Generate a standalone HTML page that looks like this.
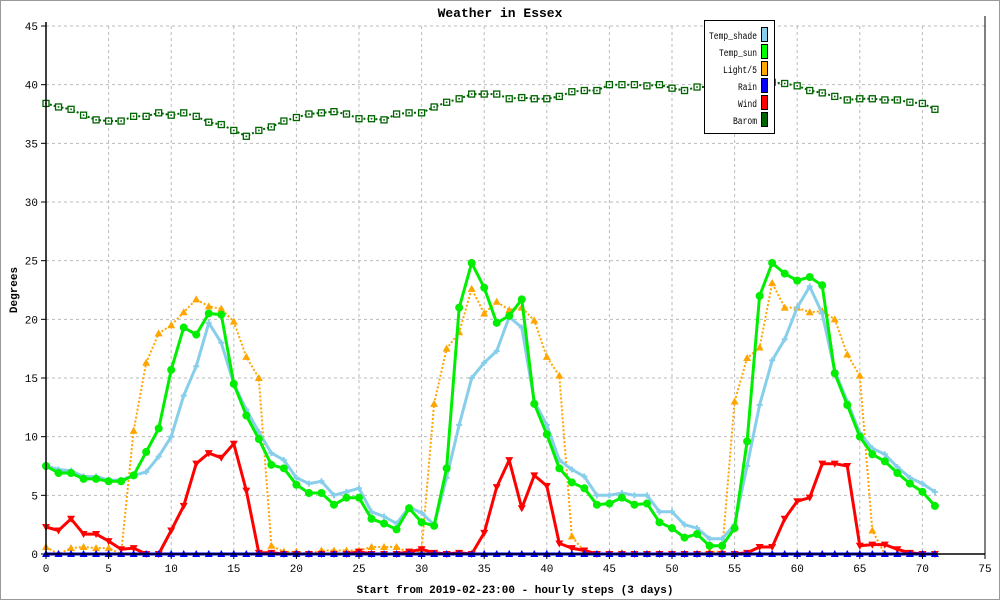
<!DOCTYPE html>
<html><head><meta charset="utf-8">
<style>
html,body{margin:0;padding:0;background:#fff;}
svg{display:block;font-family:"Liberation Mono","DejaVu Sans Mono",monospace;}
</style></head>
<body>
<svg id="chart" width="1000" height="600" xmlns="http://www.w3.org/2000/svg">
<rect x="0.5" y="0.5" width="999" height="599" fill="#fff" stroke="#999"/>
<text x="500" y="17" text-anchor="middle" font-size="13" font-weight="bold">Weather in Essex</text>
<text x="0" y="0" transform="translate(17,290) rotate(-90)" text-anchor="middle" font-size="11" font-weight="bold">Degrees</text>
<text x="515" y="593" text-anchor="middle" font-size="11" font-weight="bold">Start from 2019-02-23:00 - hourly steps (3 days)</text>
<g id="grid"></g>
<g id="series"></g>
<g id="axes"></g>
<g>
<rect x="704.5" y="20.5" width="70" height="113" fill="#fff" stroke="#000"/>
<g font-size="10" text-anchor="end">
<text x="757" y="39" textLength="48" lengthAdjust="spacingAndGlyphs">Temp_shade</text>
<text x="757" y="56" textLength="38" lengthAdjust="spacingAndGlyphs">Temp_sun</text>
<text x="757" y="73" textLength="34" lengthAdjust="spacingAndGlyphs">Light/5</text>
<text x="757" y="90" textLength="19" lengthAdjust="spacingAndGlyphs">Rain</text>
<text x="757" y="107" textLength="19" lengthAdjust="spacingAndGlyphs">Wind</text>
<text x="757" y="124" textLength="24" lengthAdjust="spacingAndGlyphs">Barom</text>
</g>
<rect x="761.5" y="27.5" width="6" height="14" fill="#87ceeb" stroke="#000"/>
<rect x="761.5" y="44.5" width="6" height="14" fill="#00ff00" stroke="#000"/>
<rect x="761.5" y="61.5" width="6" height="14" fill="#ffa500" stroke="#000"/>
<rect x="761.5" y="78.5" width="6" height="14" fill="#0000ff" stroke="#000"/>
<rect x="761.5" y="95.5" width="6" height="14" fill="#ff0000" stroke="#000"/>
<rect x="761.5" y="112.5" width="6" height="14" fill="#006400" stroke="#000"/>
</g>
</svg>
<script>
const xTicks = [0,5,10,15,20,25,30,35,40,45,50,55,60,65,70,75];
const yTicks = [0,5,10,15,20,25,30,35,40,45];
const tempShade = [7.5,7.2,7.1,6.6,6.6,6.3,6.3,6.7,7.0,8.3,10.0,13.5,16.0,19.7,18.0,14.5,12.3,10.4,8.6,8.0,6.5,6.0,6.2,5.0,5.3,5.6,3.6,3.2,2.6,4.0,3.5,2.5,6.5,11.0,15.0,16.3,17.3,20.2,19.3,13.0,11.0,8.0,7.2,6.6,5.0,5.0,5.2,5.0,5.0,3.6,3.6,2.5,2.2,1.3,1.3,2.5,7.5,12.7,16.5,18.3,21.0,22.8,20.5,15.6,13.0,10.3,9.0,8.5,7.4,6.5,6.0,5.3];
const tempSun = [7.5,6.9,6.9,6.4,6.4,6.2,6.2,6.7,8.7,10.7,15.7,19.3,18.7,20.5,20.4,14.5,11.8,9.8,7.6,7.3,5.9,5.2,5.2,4.2,4.8,4.8,3.0,2.6,2.1,3.9,2.7,2.4,7.3,21.0,24.8,22.7,19.7,20.3,21.7,12.8,10.2,7.3,6.1,5.6,4.2,4.3,4.8,4.2,4.3,2.7,2.2,1.4,1.7,0.7,0.7,2.2,9.6,22.0,24.8,23.9,23.3,23.6,22.9,15.4,12.7,10.0,8.5,7.9,6.9,6.0,5.3,4.1];
const light = [0.6,0.0,0.5,0.6,0.5,0.5,0.0,10.5,16.3,18.8,19.5,20.6,21.7,21.1,20.9,19.8,16.8,15.0,0.7,0.2,0.2,0.0,0.3,0.3,0.3,0.3,0.6,0.6,0.6,0.1,0.3,12.8,17.5,18.9,22.6,20.5,21.5,20.8,21.0,19.9,16.8,15.2,1.5,0.2,0,0,0.1,0,0,0,0,0,0,0.2,0.2,13.0,16.7,17.6,23.1,21.0,21.0,20.6,20.7,20.0,17.0,15.2,2.0,0,0,0,0,0];
const rain = [0,0,0,0,0,0,0,0,0,0,0,0,0,0,0,0,0,0,0,0,0,0,0,0,0,0,0,0,0,0,0,0,0,0,0,0,0,0,0,0,0,0,0,0,0,0,0,0,0,0,0,0,0,0,0,0,0,0,0,0,0,0,0,0,0,0,0,0,0,0,0,0];
const wind = [2.3,2.0,3.0,1.7,1.7,1.1,0.4,0.5,0,0,2.0,4.1,7.7,8.6,8.2,9.4,5.4,0.1,0.1,0,0,0,0,0,0,0.2,0,0,0,0.2,0.4,0.1,0,0.1,0,1.8,5.7,8.0,3.9,6.7,5.8,0.9,0.5,0.3,0,0,0,0,0,0,0,0,0,0,0,0,0.1,0.6,0.6,3.0,4.5,4.8,7.7,7.7,7.5,0.7,0.8,0.8,0.4,0.1,0,0];
const barom = [38.4,38.1,37.9,37.4,37.0,36.9,36.9,37.3,37.3,37.6,37.4,37.6,37.3,36.8,36.6,36.1,35.6,36.1,36.4,36.9,37.2,37.5,37.6,37.7,37.5,37.1,37.1,37.0,37.5,37.6,37.6,38.1,38.5,38.8,39.2,39.2,39.2,38.8,38.9,38.8,38.8,39.0,39.4,39.5,39.5,40.0,40.0,40.0,39.9,40.0,39.7,39.5,39.8,39.8,39.9,40.0,40.1,40.2,40.2,40.1,39.9,39.5,39.3,39.0,38.7,38.8,38.8,38.7,38.7,38.5,38.4,37.9];

const NS = "http://www.w3.org/2000/svg";
const X0 = 46, X1 = 985, Y0 = 554, Y1 = 26;
function sx(v){ return X0 + (v/75)*(X1-X0); }
function sy(v){ return Y0 - (v/45)*(Y0-Y1); }
function mk(tag, attrs, parent){
  const e = document.createElementNS(NS, tag);
  for (const k in attrs) e.setAttribute(k, attrs[k]);
  parent.appendChild(e);
  return e;
}
const grid = document.getElementById('grid');
const axes = document.getElementById('axes');
const series = document.getElementById('series');

xTicks.forEach(t => {
  const x = sx(t);
  if (t > 0 && t < 75) {
    const g = mk('line', {x1:x, x2:x, y1:Y1, y2:Y0, stroke:'#bbb', 'stroke-dasharray':'3,3'}, grid);
    
    
  }
  const tk = mk('line', {x1:x, x2:x, y1:Y0, y2:Y0+5, stroke:'#000'}, axes);
  
  
  const lb = mk('text', {x:x, y:Y0+18, 'text-anchor':'middle', 'font-size':'11'}, axes);
  lb.textContent = t;
  
  
});
yTicks.forEach(t => {
  const y = sy(t);
  if (t > 0) {
    const g = mk('line', {x1:X0, x2:X1, y1:y, y2:y, stroke:'#bbb', 'stroke-dasharray':'3,3'}, grid);
    
    
  }
  const tk = mk('line', {x1:X0-5, x2:X0, y1:y, y2:y, stroke:'#000'}, axes);
  
  
  const lb = mk('text', {x:X0-8, y:y+4, 'text-anchor':'end', 'font-size':'11'}, axes);
  lb.textContent = t;
  
  
});
const ax1 = mk('line', {x1:X0, x2:X0, y1:Y1-4, y2:Y0, stroke:'#000', 'stroke-width':1.5}, axes);


const ax2 = mk('line', {x1:X0, x2:X1, y1:Y0, y2:Y0, stroke:'#000', 'stroke-width':1.5}, axes);


const ax3 = mk('line', {x1:X1, x2:X1, y1:Y1-10, y2:Y0, stroke:'#000', 'stroke-width':1}, axes);



function drawSeries(vals, color, width, dash, marker, name){
  const g = mk('g', {}, series);
  
  
  const pts = vals.map((v,i) => sx(i).toFixed(1) + ',' + sy(v).toFixed(1)).join(' ');
  const attrs = {points:pts, fill:'none', stroke:color, 'stroke-width':width, 'stroke-linejoin':'round'};
  if (dash) attrs['stroke-dasharray'] = dash;
  const pl = mk('polyline', attrs, g);
  
  
  vals.forEach((v,i) => {
    const x = sx(i), y = sy(v);
    let m;
    if (marker === 'circle') m = mk('circle', {cx:x, cy:y, r:4, fill:color}, g);
    else if (marker === 'up') m = mk('path', {d:`M${x},${y-4} L${x+4},${y+3} L${x-4},${y+3} Z`, fill:color}, g);
    else if (marker === 'down') m = mk('path', {d:`M${x-4},${y-3} L${x+4},${y-3} L${x},${y+4} Z`, fill:color}, g);
    else if (marker === 'square') {
      m = mk('rect', {x:x-3, y:y-3, width:6, height:6, fill:'#fff', stroke:color, 'stroke-width':1.3}, g);
      const d = mk('rect', {x:x-0.8, y:y-0.8, width:1.6, height:1.6, fill:color}, g);
      
      
    }
    else m = mk('path', {d:`M${x-3},${y} L${x+3},${y} M${x},${y-3} L${x},${y+3}`, stroke:color, 'stroke-width':2}, g);
    
    
  });
}
drawSeries(light, '#ffa500', 2, '2,2', 'up', 'light');
drawSeries(barom, '#006400', 2, '2,2', 'square', 'barom');
drawSeries(tempShade, '#87ceeb', 3, null, 'plus', 'temp-shade');
drawSeries(tempSun, '#00ee00', 3, null, 'circle', 'temp-sun');
drawSeries(wind, '#ff0000', 3, null, 'down', 'wind');
drawSeries(rain, '#0000ff', 3, null, 'up', 'rain');
</script>
</body></html>
